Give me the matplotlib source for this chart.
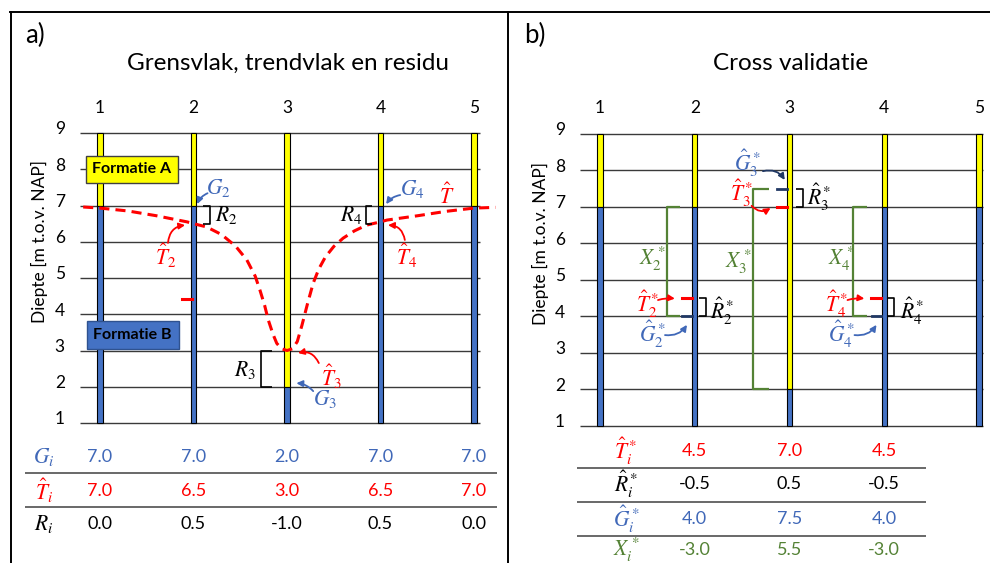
import numpy as np
import matplotlib.pyplot as plt
from matplotlib.lines import Line2D

plt.rcParams['font.family'] = ['Lato', 'DejaVu Sans']
plt.rcParams['mathtext.fontset'] = 'stix'

# wells and depth axis
wells = [1, 2, 3, 4, 5]
well_labels = ['1', '2', '3', '4', '5']
depths = [1, 2, 3, 4, 5, 6, 7, 8, 9]
top, base = 9, 1

# a) grensvlak G, trendvlak T-hat, residu R
G = [7.0, 7.0, 2.0, 7.0, 7.0]
T_hat = [7.0, 6.5, 3.0, 6.5, 7.0]
R = [0.0, 0.5, -1.0, 0.5, 0.0]

# dashed trend surface
trend_x = [0.82, 1.0, 1.3, 1.6, 1.93, 2.0, 2.14, 2.3, 2.45, 2.57, 2.66, 2.71,
           2.76, 2.80, 2.85, 2.89, 2.94, 3.0, 3.06, 3.11, 3.16, 3.22, 3.28,
           3.34, 3.41, 3.5, 3.6, 3.72, 3.85, 4.0, 4.07, 4.4, 4.7, 5.0, 5.23]
trend_y = [6.96, 6.93, 6.85, 6.72, 6.55, 6.5, 6.41, 6.2, 5.88, 5.5, 5.05, 4.67,
           4.25, 3.84, 3.45, 3.2, 3.05, 3.0, 3.05, 3.25, 3.70, 4.3, 4.86,
           5.25, 5.58, 5.87, 6.10, 6.3, 6.46, 6.55, 6.6, 6.72, 6.84, 6.93, 6.95]

# b) cross validatie
cv_wells = [2, 3, 4]
T_star = [4.5, 7.0, 4.5]
R_star = [-0.5, 0.5, -0.5]
G_star = [4.0, 7.5, 4.0]
X_star = [-3.0, 5.5, -3.0]

YEL = '#FFFF00'
BLUE = '#4472C4'
TBLUE = '#4068B8'
NAVY = '#203864'
RED = '#FF0000'
GREEN = '#548235'
GRID = '#3a3a3a'

fig = plt.figure(figsize=(9.9, 5.63), dpi=100)
axA = fig.add_axes([11/990, 0, 498/990, 551/563])
axA.set_xlim(0.048, 5.374)
axA.set_ylim(-2.862, 12.34)
axB = fig.add_axes([509/990, 0, 481/990, 551/563])
axB.set_xlim(0.0396, 5.116)
axB.set_ylim(-2.753, 12.34)

# panel frames
for x0, y0, x1, y1 in [(10, 12, 990, 12), (11, 12, 11, 563), (508, 12, 508, 563)]:
    fig.add_artist(Line2D([x0/990, x1/990], [1 - y0/563, 1 - y1/563],
                          color='black', lw=1.4))


def draw_base(ax, xlo, xhi, title, tag, ylab_x, tick_x):
    ax.axis('off')
    ax.hlines(depths, xlo, xhi, color=GRID, lw=1, zorder=1)
    ax.bar(wells, [top - g for g in G], bottom=G, width=0.055,
           color=YEL, edgecolor='black', lw=0.8, zorder=3)
    ax.bar(wells, [g - base for g in G], bottom=base, width=0.055,
           color=BLUE, edgecolor='black', lw=0.8, zorder=3)
    for w, lab in zip(wells, well_labels):
        ax.text(w, 9.7, lab, ha='center', va='center', fontsize=12.5)
    for d in depths:
        ax.text(tick_x, d + 0.1, str(d), ha='center', va='center', fontsize=12.5)
    ax.text(ylab_x, 6.0, 'Diepte [m t.o.v. NAP]', rotation=90,
            ha='center', va='center', fontsize=12.5)
    ax.text(3.01, 10.93, title, ha='center', va='center', fontsize=17.5)
    ax.text(0.2, 11.69, tag, ha='left', va='center', fontsize=18.5)


def bracket(ax, x, y0, y1, dx, color='black', lw=1.2):
    ax.plot([x + dx, x, x, x + dx], [y0, y0, y1, y1], color=color, lw=lw,
            zorder=4, solid_capstyle='butt')


def arrow(ax, start, end, color, rad):
    ax.annotate('', xy=end, xytext=start,
                arrowprops=dict(arrowstyle='-|>', color=color, lw=1.3,
                                mutation_scale=9, shrinkA=0, shrinkB=0,
                                connectionstyle=f'arc3,rad={rad}'), zorder=6)


ms = 15.5

# ---------------- panel a ----------------
draw_base(axA, 0.786, 5.064, 'Grensvlak, trendvlak en residu', 'a)', 0.358, 0.57)
axA.plot(trend_x, trend_y, color=RED, lw=2.2, ls=(0, (3.3, 2.0)), zorder=4)
# stray dash left from panel b
axA.plot([1.88, 1.98], [T_star[0] - 0.08, T_star[0] - 0.08], color=RED, lw=2.2, zorder=4)

axA.text(1.342, 8.0, 'Formatie A', ha='center', va='center', fontsize=11.5,
         fontweight='bold', zorder=5,
         bbox=dict(boxstyle='square,pad=0.42', fc=YEL, ec='#404040', lw=1))
axA.text(1.35, 3.43, 'Formatie B', ha='center', va='center', fontsize=11.5,
         fontweight='bold', zorder=5,
         bbox=dict(boxstyle='square,pad=0.42', fc=BLUE, ec='#2F528F', lw=1))

# residual brackets between T-hat and G
bracket(axA, wells[1] + 0.176, T_hat[1], G[1], -0.07)
bracket(axA, wells[2] - 0.28, T_hat[2], G[2], 0.12)
bracket(axA, wells[3] - 0.155, T_hat[3], G[3], 0.06)

axA.text(2.26, 7.48, r'$G_2$', color=TBLUE, ha='center', va='center', fontsize=ms)
arrow(axA, (2.15, 7.34), (2.04, 7.04), TBLUE, 0.2)
axA.text(2.35, 6.74, r'$R_2$', ha='center', va='center', fontsize=ms)
axA.text(1.706, 5.61, r'$\hat{T}_2$', color=RED, ha='center', va='center', fontsize=ms)
arrow(axA, (1.727, 5.97), (1.91, 6.46), RED, -0.4)

axA.text(4.34, 7.455, r'$G_4$', color=TBLUE, ha='center', va='center', fontsize=ms)
arrow(axA, (4.21, 7.29), (4.06, 7.04), TBLUE, 0.2)
axA.text(3.69, 6.74, r'$R_4$', ha='center', va='center', fontsize=ms)
axA.text(4.283, 5.61, r'$\hat{T}_4$', color=RED, ha='center', va='center', fontsize=ms)
arrow(axA, (4.26, 6.05), (4.08, 6.46), RED, 0.4)
axA.text(4.71, 7.29, r'$\hat{T}$', color=RED, ha='center', va='center', fontsize=ms)

axA.text(2.55, 2.46, r'$R_3$', ha='center', va='center', fontsize=ms)
axA.text(3.47, 2.27, r'$\hat{T}_3$', color=RED, ha='center', va='center', fontsize=ms)
arrow(axA, (3.34, 2.655), (3.118, 2.93), RED, 0.4)
axA.text(3.41, 1.66, r'$G_3$', color=TBLUE, ha='center', va='center', fontsize=ms)
arrow(axA, (3.28, 1.88), (3.1, 2.1), TBLUE, 0.2)

# table a
rowsA = [(r'$G_i$', G, TBLUE, 0.062), (r'$\hat{T}_i$', T_hat, RED, -0.876),
         (r'$R_i$', R, 'black', -1.786)]
for lab, vals, c, y in rowsA:
    axA.text(0.40, y, lab, color=c, ha='center', va='center', fontsize=ms)
    for w, v in zip(wells, vals):
        axA.text(w, y, f'{v:.1f}', color=c, ha='center', va='center', fontsize=13)
axA.hlines([-0.379, -1.317], 0.198, 5.246, color='#404040', lw=1.1)

# ---------------- panel b ----------------
draw_base(axB, 0.789, 5.042, 'Cross validatie', 'b)', 0.367, 0.578)

X_off = [-0.293, -0.38, -0.33]
X_dx = [0.137, 0.16, 0.148]
R_off = [0.119, 0.142, 0.10]
for i, w in enumerate(cv_wells):
    g_true = G[w - 1]
    bracket(axB, w + X_off[i], g_true, G_star[i], X_dx[i], color=GREEN, lw=1.6)
    bracket(axB, w + R_off[i], T_star[i], G_star[i], -0.07)
    axB.plot([w - 0.135, w - 0.03], [T_star[i], T_star[i]], color=RED, lw=2.2, zorder=5)
    axB.plot([w - 0.13, w - 0.03], [G_star[i], G_star[i]], color=NAVY, lw=2.0, zorder=5)

# labels well 2 and 4
for w in [2, 4]:
    d = w - 2
    axB.text(1.549 + d, 5.575, r'$X_2^*$'.replace('2', str(w)), color=GREEN,
             ha='center', va='center', fontsize=ms)
    axB.text(1.496 + d, 4.34, r'$\hat{T}_2^*$'.replace('2', str(w)), color=RED,
             ha='center', va='center', fontsize=ms)
    arrow(axB, (1.612 + d, 4.45), (1.79 + d, 4.49), RED, -0.1)
    axB.text(1.549 + d, 3.52, r'$\hat{G}_2^*$'.replace('2', str(w)), color=TBLUE,
             ha='center', va='center', fontsize=ms)
    arrow(axB, (1.686 + d, 3.49), (1.918 + d, 3.77), TBLUE, 0.3)
    axB.text(2.29 + d, 4.15, r'$\hat{R}_2^*$'.replace('2', str(w)),
             ha='center', va='center', fontsize=ms)

axB.text(2.55, 8.2, r'$\hat{G}_3^*$', color=TBLUE, ha='center', va='center', fontsize=ms)
arrow(axB, (2.72, 7.98), (2.95, 7.74), NAVY, -0.35)
axB.text(2.488, 7.38, r'$\hat{T}_3^*$', color=RED, ha='center', va='center', fontsize=ms)
arrow(axB, (2.60, 7.03), (2.80, 6.97), RED, 0.4)
axB.text(2.456, 5.49, r'$X_3^*$', color=GREEN, ha='center', va='center', fontsize=ms)
axB.text(3.31, 7.27, r'$\hat{R}_3^*$', ha='center', va='center', fontsize=ms)

# table b
rowsB = [(r'$\hat{T}_i^*$', T_star, RED, 0.315), (r'$\hat{R}_i^*$', R_star, 'black', -0.589),
         (r'$\hat{G}_i^*$', G_star, TBLUE, -1.548), (r'$X_i^*$', X_star, GREEN, -2.40)]
for lab, vals, c, y in rowsB:
    axB.text(1.274, y, lab, color=c, ha='center', va='center', fontsize=ms)
    for w, v in zip(cv_wells, vals):
        axB.text(w, y, f'{v:.1f}', color=c, ha='center', va='center', fontsize=13)
axB.hlines([-0.15, -1.082, -2.01], 0.757, 4.44, color='#404040', lw=1.1)

fig.savefig('out.png', dpi=100)
